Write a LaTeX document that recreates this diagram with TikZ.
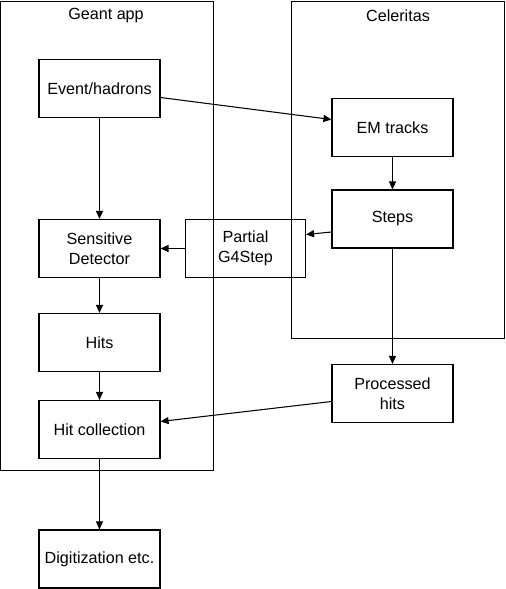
\documentclass[tikz,border=0pt]{standalone}
\usepackage{fontspec}
\setmainfont{Liberation Sans}
\usetikzlibrary{arrows.meta}

\begin{document}
\begin{tikzpicture}[x=0.02cm,y=-0.02cm,line width=0.6pt]
		\tikzstyle{every node}=[font=\fontsize{9.2}{11.5}\selectfont]
		\tikzstyle{box}=[draw,minimum width=2.42cm,minimum height=1.16cm,inner sep=0pt,align=center]
		\tikzstyle{flow}=[-{Triangle[length=4.6pt,width=4pt]}]
		\useasboundingbox (0,0) rectangle (505,589);
		
		% the two frames
		\draw (0.5,1.5) rectangle (213.5,470.5);
		\draw (291.5,1.5) rectangle (504.5,338.5);
		\node at (106,16) {Geant app};
		\node at (398,16) {Celeritas};
		
		\node [box] (event) at (99.5,88.5) {Event/hadrons};
		\node [box] (em) at (392.5,127.5) {EM tracks};
		\node [box] (steps) at (392.5,219) {Steps};
		\node [box,minimum width=2.4cm] (partial) at (245.5,248.5) {Partial\\G4Step};
		\node [box] (sd) at (99.5,248.5) {Sensitive\\Detector};
		\node [box] (hits) at (99.5,342.5) {Hits};
		\node [box] (proc) at (392.5,393.5) {Processed\\hits};
		\node [box] (hitcol) at (99.5,429.5) {Hit collection};
		\node [box] (digi) at (99.5,559) {Digitization etc.};
		
		
		\draw [flow] ([yshift=-0.18cm]event.east) -- ([yshift=0.16cm]em.west);
		\draw [flow] (event) -- (sd);
		\draw [flow] (em) -- (steps);
		\draw [flow] ([yshift=-0.26cm]steps.west) -- ([yshift=0.28cm]partial.east);
		\draw [flow] (partial) -- (sd);
		\draw [flow] (sd) -- (hits);
		\draw [flow] (hits) -- (hitcol);
		\draw [flow] (steps) -- (proc);
		\draw [flow] ([yshift=-0.16cm]proc.west) -- ([yshift=0.16cm]hitcol.east);
		\draw [flow] (hitcol) -- (digi);
		
\end{tikzpicture}
\end{document}
